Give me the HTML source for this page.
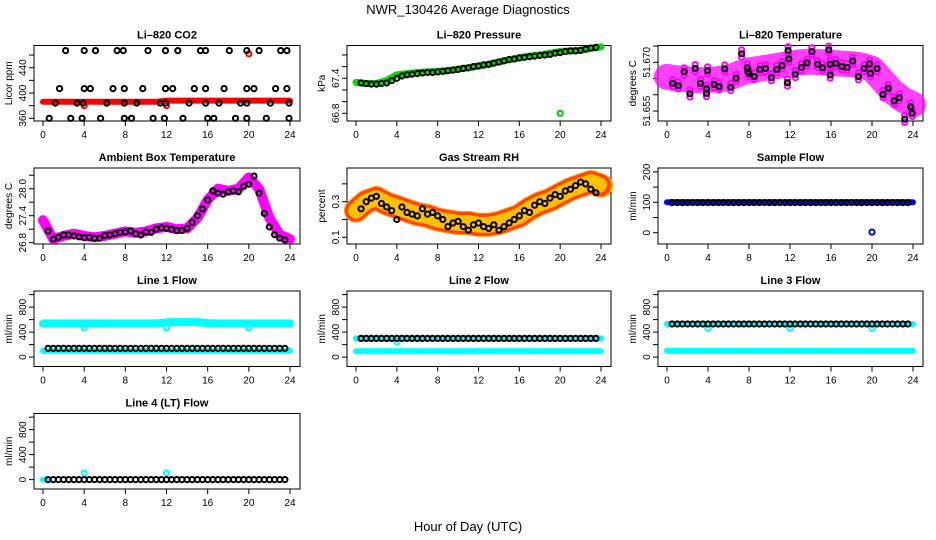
<!DOCTYPE html>
<html><head><meta charset="utf-8"><style>
body{margin:0;background:#fff}
svg{display:block;font-family:"Liberation Sans",sans-serif}
</style></head><body>
<svg id="c" width="936" height="540" viewBox="0 0 936 540" xmlns="http://www.w3.org/2000/svg">
<rect width="936" height="540" fill="#fff"/>
<text x="468" y="14" text-anchor="middle" font-size="13">NWR_130426  Average Diagnostics</text>
<text x="468" y="531" text-anchor="middle" font-size="13">Hour of Day (UTC)</text>
</svg>
<script>
const hours=[0.5,1,1.5,2,2.5,3,3.5,4,4.5,5,5.5,6,6.5,7,7.5,8,8.5,9,9.5,10,10.5,11,11.5,12,12.5,13,13.5,14,14.5,15,15.5,16,16.5,17,17.5,18,18.5,19,19.5,20,20.5,21,21.5,22,22.5,23,23.5];
const hourly=[0,1,2,3,4,5,6,7,8,9,10,11,12,13,14,15,16,17,18,19,20,21,22,23,24];
const xTicks=[0,4,8,12,16,20,24];
// CO2
const co2BlackX=[2.2,4.0,5.1,7.2,7.8,10.2,11.9,13.1,15.3,15.8,18.1,19.8,21.0,23.1,23.7,1.6,4.0,4.6,6.8,7.9,9.7,11.9,12.6,14.7,15.8,17.6,19.8,20.5,22.6,23.7,1.2,3.3,3.9,6.2,7.9,9.1,11.4,11.9,14.2,15.8,17.1,19.2,19.8,22.1,23.9,0.6,2.7,3.8,5.6,7.9,8.6,10.7,11.8,13.6,16.0,16.6,18.7,19.8,21.7,23.9];
const co2BlackY=[467,467,467,467,467,467,467,467,467,467,467,467,467,467,467,407,407,407,407,407,407,407,407,407,407,407,407,407,407,407,384,384,384,384,384,384,384,384,384,384,384,384,384,384,384,360,360,360,360,360,360,360,360,360,360,360,360,360,360,360];
const co2Red=[386,386,386,386,386,386,386,386,386,386,386,386,388,388,388,388,388,388,388,388,388,388,388,388,388];
const co2OutX=[4,12,20];
const co2OutY=[380,380,462];
// Pressure
const presGreen=[67.33,67.31,67.31,67.36,67.46,67.48,67.5,67.51,67.52,67.53,67.56,67.58,67.61,67.64,67.68,67.72,67.75,67.78,67.8,67.83,67.86,67.87,67.88,67.91,67.94];
const presBlack=[67.32,67.31,67.3,67.3,67.31,67.32,67.36,67.4,67.44,67.46,67.47,67.48,67.49,67.5,67.5,67.51,67.52,67.53,67.54,67.55,67.57,67.58,67.6,67.61,67.63,67.64,67.66,67.68,67.7,67.72,67.73,67.75,67.76,67.77,67.78,67.79,67.8,67.81,67.83,67.84,67.86,67.87,67.87,67.88,67.9,67.92,67.93];
// Li-820 temperature
const tempPink=[51.6655,51.665,51.6648,51.6645,51.6645,51.6648,51.6652,51.6665,51.6675,51.668,51.6685,51.669,51.6695,51.67,51.6702,51.67,51.6698,51.6696,51.6694,51.669,51.668,51.6645,51.661,51.6585,51.657];
const tempBlackX=[0.55,1.1,1.68,2.23,2.75,3.27,3.85,3.85,3.95,4.6,5.08,5.63,6.21,6.73,7.28,7.83,7.9,7.99,8.51,9.06,9.61,10.19,10.71,11.23,11.75,11.81,11.88,12.52,13.11,13.66,14.14,14.69,15.18,15.79,15.92,15.92,16.47,17.06,17.57,18.12,18.67,19.22,19.77,19.84,20.49,21.07,21.59,22.17,22.65,23.2,23.79,23.92];
const tempBlackY=[51.6635,51.6628,51.6671,51.6603,51.6681,51.6635,51.6604,51.6618,51.6674,51.6632,51.6625,51.668,51.6623,51.6651,51.6726,51.6683,51.6671,51.6666,51.6656,51.6678,51.6681,51.6653,51.6678,51.669,51.6637,51.6736,51.671,51.6663,51.6684,51.6698,51.6733,51.6694,51.6683,51.6738,51.6661,51.6694,51.6697,51.6687,51.6684,51.6704,51.6656,51.6681,51.6695,51.6666,51.6681,51.6601,51.662,51.6581,51.6591,51.6525,51.6563,51.6543];
// Ambient
const ambPink=[27.3,26.88,26.95,27.0,26.95,26.92,26.95,27.0,27.05,27.02,27.05,27.12,27.15,27.1,27.12,27.35,27.75,28.0,27.95,28.0,28.25,28.0,27.35,26.98,26.88];
const ambBlack=[27.06,26.88,26.92,26.97,26.97,26.95,26.93,26.91,26.92,26.9,26.9,26.96,26.97,27.0,27.03,27.04,27.06,27.0,26.97,27.04,27.03,27.1,27.13,27.12,27.1,27.07,27.07,27.12,27.25,27.4,27.55,27.75,27.95,27.9,27.88,27.93,27.95,27.93,28.05,28.1,28.28,27.9,27.45,27.15,26.98,26.9,26.86];
// RH
const rhBand=[0.25,0.3,0.32,0.29,0.27,0.25,0.23,0.22,0.2,0.19,0.18,0.18,0.17,0.17,0.18,0.2,0.22,0.26,0.29,0.31,0.34,0.37,0.39,0.41,0.39];
const rhBlack=[0.26,0.3,0.32,0.33,0.29,0.27,0.25,0.2,0.27,0.24,0.23,0.22,0.26,0.23,0.24,0.22,0.2,0.16,0.18,0.19,0.16,0.14,0.17,0.18,0.16,0.15,0.17,0.14,0.16,0.18,0.2,0.22,0.25,0.24,0.28,0.3,0.29,0.32,0.34,0.33,0.36,0.37,0.39,0.41,0.4,0.37,0.35];
// Sample flow
const sampleBlue=[100,100,100,100,100,100,100,100,100,100,100,100,100,100,100,100,100,100,100,100,100,100,100,100,100];
const sampleBlack=[99,99,99,99,99,99,99,99,99,99,99,99,99,99,99,99,99,99,99,99,99,99,99,99,99,99,99,99,99,99,99,99,99,99,99,99,99,99,99,99,99,99,99,99,99,99,99];
const sampleOutX=[20];
const sampleOutY=[2];
// Line flows
const l1CyanHi=[540,540,540,540,540,540,540,540,540,540,540,540,555,560,560,560,545,540,540,540,540,540,540,540,540];
const l1CyanLo=[100,100,100,100,100,100,100,100,100,100,100,100,100,100,100,100,100,100,100,100,100,100,100,100,100];
const l1Black=[140,140,140,140,140,140,140,140,140,140,140,140,140,140,140,140,140,140,140,140,140,140,140,140,140,140,140,140,140,140,140,140,140,140,140,140,140,140,140,140,140,140,140,140,140,140,140];
const l1OutX=[4,12,20];
const l1OutY=[470,470,470];
const l2CyanHi=[300,300,300,300,300,300,300,300,300,300,300,300,300,300,300,300,300,300,300,300,300,300,300,300,300];
const l2CyanLo=[95,95,95,95,95,95,95,95,95,95,95,95,95,95,95,95,95,95,95,95,95,95,95,95,95];
const l2Black=[300,300,300,300,300,300,300,300,300,300,300,300,300,300,300,300,300,300,300,300,300,300,300,300,300,300,300,300,300,300,300,300,300,300,300,300,300,300,300,300,300,300,300,300,300,300,300];
const l2OutX=[4];
const l2OutY=[245];
const l3CyanHi=[530,530,530,530,530,530,530,530,530,530,530,530,530,530,530,530,530,530,530,530,530,530,530,530,530];
const l3CyanLo=[100,100,100,100,100,100,100,100,100,100,100,100,100,100,100,100,100,100,100,100,100,100,100,100,100];
const l3Black=[530,530,530,530,530,530,530,530,530,530,530,530,530,530,530,530,530,530,530,530,530,530,530,530,530,530,530,530,530,530,530,530,530,530,530,530,530,530,530,530,530,530,530,530,530,530,530];
const l3OutX=[4,12,20];
const l3OutY=[460,460,460];
const l4Cyan=[0,0];
const l4CyanX=[0,0.5];
const l4Black=[0,0,0,0,0,0,0,0,0,0,0,0,0,0,0,0,0,0,0,0,0,0,0,0,0,0,0,0,0,0,0,0,0,0,0,0,0,0,0,0,0,0,0,0,0,0,0];
const l4OutX=[4,12];
const l4OutY=[105,105];

const NS='http://www.w3.org/2000/svg';
const svg=document.getElementById('c');
const cols=[[34,300],[347,611],[658,923]];
const rows=[[45.5,121],[168,244],[291,366.5],[413.5,489]];
function el(tag,attrs,parent){const e=document.createElementNS(NS,tag);for(const k in attrs)e.setAttribute(k,attrs[k]);(parent||svg).appendChild(e);return e;}
function fmt(v){return String(v);}
function panel(ci,ri,name,title,ylab,ydom,ticks,labels,labFmt){
  const [L,R]=cols[ci],[T,B]=rows[ri];
  const g=el('g',{});
  
  
  const X=h=>L+9+(h/24)*(R-L-19);
  const Y=v=>B-(v-ydom[0])/(ydom[1]-ydom[0])*(B-T);
  const box=el('rect',{x:L,y:T,width:R-L,height:B-T,fill:'none',stroke:'#000','stroke-width':1},g);
  
  
  const t=el('text',{x:(L+R)/2,y:T-7,'text-anchor':'middle','font-size':11,'font-weight':'bold'},g);
  t.textContent=title;
  
  
  xTicks.forEach(h=>{
    const tk=el('line',{x1:X(h),x2:X(h),y1:B,y2:B+5,stroke:'#000'},g);
    
    
    const lb=el('text',{x:X(h),y:B+17,'text-anchor':'middle','font-size':10},g);
    lb.textContent=fmt(h);
    
    
  });
  ticks.forEach(v=>{
    const tk=el('line',{x1:L-5,x2:L,y1:Y(v),y2:Y(v),stroke:'#000'},g);
    
    
  });
  labels.forEach(v=>{
    const lb=el('text',{x:0,y:0,'text-anchor':'middle','font-size':10,transform:`translate(${L-8},${Y(v)}) rotate(-90)`},g);
    lb.textContent=labFmt?labFmt(v):fmt(v);
    
    
  });
  const yl=el('text',{x:0,y:0,'text-anchor':'middle','font-size':10,transform:`translate(${L-22},${(T+B)/2}) rotate(-90)`},g);
  yl.textContent=ylab;
  
  
  const clip=el('g',{},g);
  return {g:clip,X,Y};
}
function band(p,xs,ys,color,w,name,extra){
  const pts=xs.map((x,i)=>p.X(x).toFixed(1)+','+p.Y(ys[i]).toFixed(1)).join(' ');
  const pl=el('polyline',Object.assign({points:pts,fill:'none',stroke:color,'stroke-width':w,'stroke-linejoin':'round','stroke-linecap':'round'},extra||{}),p.g);
  
  
}
function dots(p,xs,ys,color,name,r,sw){
  const n=Math.min(xs.length,ys.length);
  for(let i=0;i<n;i++){
    const c=el('circle',{cx:p.X(xs[i]).toFixed(1),cy:p.Y(ys[i]).toFixed(1),r:r||2.6,fill:'none',stroke:color,'stroke-width':sw||2},p.g);
    
    
  }
}
const flowTicks=[0,200,400,600,800,1000],flowLabs=[0,400,800],flowDom=[-150,1058];

let p=panel(0,0,'panel-co2','Li\u2013820 CO2','Licor ppm',[355.7,475.1],[360,380,400,420,440,460],[360,400,440]);
band(p,hourly,co2Red,'#ff0000',6,'co2-red-series');
dots(p,co2OutX,co2OutY,'#ff0000','co2-red-outlier');
dots(p,co2BlackX,co2BlackY,'#000','co2-black-point');

p=panel(1,0,'panel-pressure','Li\u2013820 Pressure','kPa',[66.668,67.962],[66.8,67.0,67.2,67.4,67.6,67.8],[66.8,67.4],v=>v.toFixed(1));
band(p,hourly,presGreen,'#00dd00',7,'pressure-green-series');
dots(p,[20],[66.8],'#00cc00','pressure-outlier');
dots(p,hours,presBlack,'#000','pressure-black-point');

p=panel(2,0,'panel-li820-temp','Li\u2013820 Temperature','degrees C',[51.65192,51.67517],[51.655,51.66,51.665,51.67,51.675],[51.655,51.67],v=>v.toFixed(3));
band(p,hourly,tempPink,'#ff00ff',26,'temp-pink-band',{opacity:0.75});
dots(p,tempBlackX,tempBlackY.map(v=>v+0.0012),'#ff00ff','temp-pink-point');
dots(p,tempBlackX,tempBlackY.map(v=>v-0.0010),'#ff00ff','temp-pink-point');
dots(p,tempBlackX,tempBlackY,'#000','temp-black-point');

p=panel(0,1,'panel-ambient','Ambient Box Temperature','degrees C',[26.771,28.46],[26.8,27.1,27.4,27.7,28.0,28.3],[26.8,27.4,28.0],v=>v.toFixed(1));
band(p,hourly,ambPink,'#ff00ff',10,'ambient-pink-series');
dots(p,hours,ambBlack,'#000','ambient-black-point');

p=panel(1,1,'panel-rh','Gas Stream RH','percent',[0.0624,0.489],[0.1,0.2,0.3,0.4],[0.1,0.3]);
band(p,hourly,rhBand,'#ff9a00',24,'rh-orange-band');
band(p,hourly,rhBand,'#ff2000',22,'rh-red-speckle',{'stroke-dasharray':'1 2',opacity:0.7});
band(p,hourly,rhBand,'#ffe000',16,'rh-yellow-speckle',{'stroke-dasharray':'1 3',opacity:0.8});
dots(p,hours,rhBlack,'#000','rh-black-point');

p=panel(2,1,'panel-sample-flow','Sample Flow','ml/min',[-37.2,212.8],[0,50,100,150,200],[0,100,200]);
band(p,hourly,sampleBlue,'#0000ff',6,'sample-blue-series');
dots(p,sampleOutX,sampleOutY,'#0000ff','sample-outlier');
dots(p,hours,sampleBlack,'#000','sample-black-point');

p=panel(0,2,'panel-line1','Line 1 Flow','ml/min',flowDom,flowTicks,flowLabs);
band(p,hourly,l1CyanHi,'#00ffff',8,'line1-cyan-high');
band(p,hourly,l1CyanLo,'#00ffff',6,'line1-cyan-low');
dots(p,l1OutX,l1OutY,'#00ffff','line1-outlier');
dots(p,hours,l1Black,'#000','line1-black-point');

p=panel(1,2,'panel-line2','Line 2 Flow','ml/min',flowDom,flowTicks,flowLabs);
band(p,hourly,l2CyanHi,'#00ffff',6,'line2-cyan-high');
band(p,hourly,l2CyanLo,'#00ffff',6,'line2-cyan-low');
dots(p,l2OutX,l2OutY,'#00ffff','line2-outlier');
dots(p,hours,l2Black,'#000','line2-black-point');

p=panel(2,2,'panel-line3','Line 3 Flow','ml/min',flowDom,flowTicks,flowLabs);
band(p,hourly,l3CyanHi,'#00ffff',6,'line3-cyan-high');
band(p,hourly,l3CyanLo,'#00ffff',6,'line3-cyan-low');
dots(p,l3OutX,l3OutY,'#00ffff','line3-outlier');
dots(p,hours,l3Black,'#000','line3-black-point');

p=panel(0,3,'panel-line4','Line 4 (LT) Flow','ml/min',flowDom,flowTicks,flowLabs);
band(p,l4CyanX,l4Cyan,'#00ffff',6,'line4-cyan');
dots(p,l4OutX,l4OutY,'#00ffff','line4-outlier');
dots(p,hours,l4Black,'#000','line4-black-point');
</script>
</body></html>
